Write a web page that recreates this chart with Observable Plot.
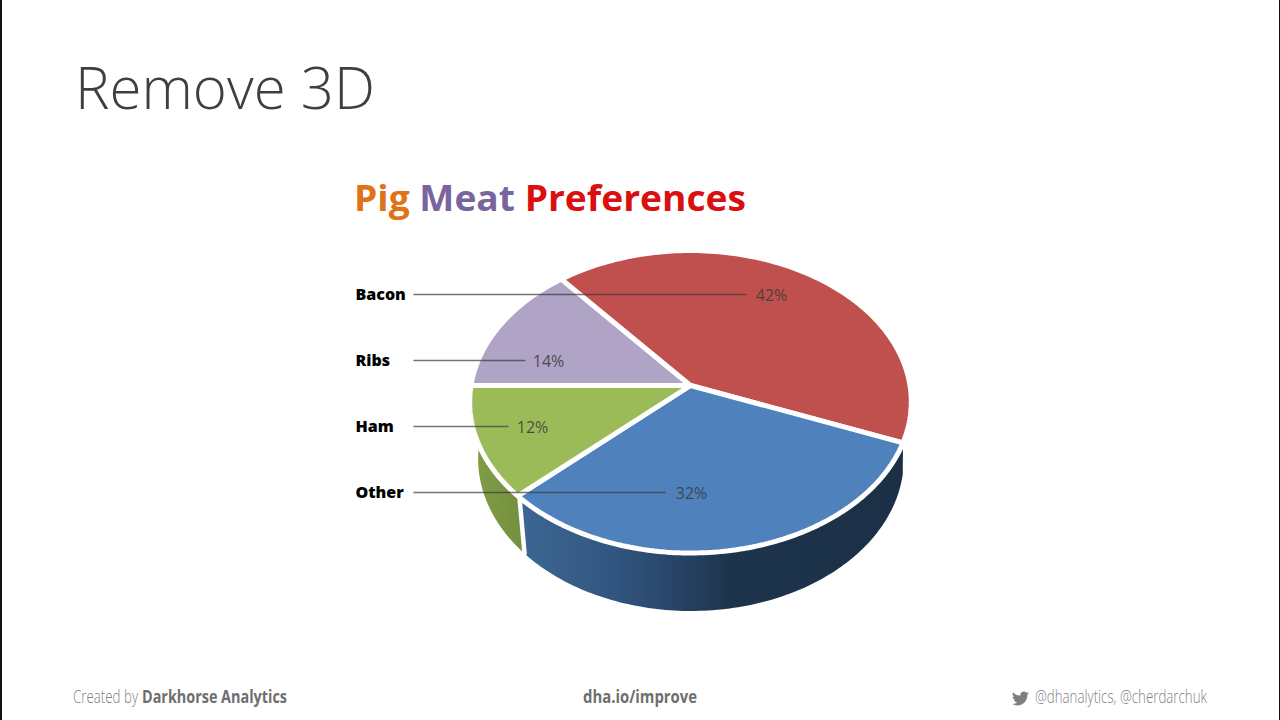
<!DOCTYPE html>
<html>
<head>
<meta charset="utf-8">
<script src="https://cdn.jsdelivr.net/npm/d3@7"></script>
<script src="https://cdn.jsdelivr.net/npm/@observablehq/plot@0.6"></script>
<style>
  html, body { margin: 0; padding: 0; background: #fff; }
  body { position: relative; width: 1280px; height: 720px; overflow: hidden; font-family: "Open Sans", sans-serif; }
  #chart { position: absolute; left: 0; top: 0; }
  .edge { position: absolute; top: 0; width: 1.5px; height: 720px; background: #111; }
  .t { position: absolute; white-space: nowrap; transform-origin: left top; margin: 0; line-height: 1; }
  #slide { left: 75px; top: 57px; font-size: 59px; font-weight: 300; color: #3f3f3f; }
  #ctitle { left: 354px; top: 180px; font-size: 36px; font-weight: 700; }
  .foot { top: 687px; font-size: 18px; color: #7f7f7f; font-weight: 300; }
  .foot.bold { font-weight: 700; color: #6f6f6f; }
  #bird { position: absolute; left: 1012px; top: 690px; width: 17px; height: 17px; fill: #7f7f7f; }
</style>
</head>
<body>
<div class="edge" style="left:0"></div>
<div class="edge" style="left:1278.5px"></div>
<h1 class="t" id="slide">Remove 3D</h1>
<h2 class="t" id="ctitle"><span style="color:#dd7417">Pig</span> <span style="color:#7a649e">Meat</span> <span style="color:#d90f10">Preferences</span></h2>
<div id="chart"></div>
<div class="t foot" id="f0">Created by</div>
<div class="t foot bold" id="f1">Darkhorse Analytics</div>
<div class="t foot bold" id="f2">dha.io/improve</div>
<svg id="bird" viewBox="0 0 24 24"><path d="M23.953 4.57a10 10 0 01-2.825.775 4.958 4.958 0 002.163-2.723c-.951.555-2.005.959-3.127 1.184a4.92 4.92 0 00-8.384 4.482C7.69 8.095 4.067 6.13 1.64 3.162a4.822 4.822 0 00-.666 2.475c0 1.71.87 3.213 2.188 4.096a4.904 4.904 0 01-2.228-.616v.06a4.923 4.923 0 003.946 4.827 4.996 4.996 0 01-2.212.085 4.936 4.936 0 004.604 3.417 9.867 9.867 0 01-6.102 2.105c-.39 0-.779-.023-1.17-.067a13.995 13.995 0 007.557 2.209c9.053 0 13.998-7.496 13.998-13.985 0-.21 0-.42-.015-.63A9.935 9.935 0 0024 4.59z"/></svg>
<div class="t foot" id="f3">@dhanalytics, @cherdarchuk</div>
<script>
// ---- data, in the order the legend rows read ----
const categories = ["Bacon", "Ribs", "Ham", "Other"];
const shares = [42, 14, 12, 32];
const sliceColors = ["#c0504d", "#afa3c6", "#9bbb59", "#4f81bd"];

// ---- layout (screen space, separate from the data) ----
const sweepOrder = ["Ribs", "Bacon", "Other", "Ham"];   // clockwise from 9 o'clock
const apex = {x: 690, y: 385};
const top3d = {a: 217.75, b: 148.3, k: 0.1067, r: 1.008};
const base3d = {x: 690.5, y: 442, sx: 0.972, sy: 1.015};
const rowY = i => 294 + i * 66;
const leaderFrom = 413, labelX = 355;
const leaderTo = {Bacon: 746, Ribs: 525, Ham: 508, Other: 665};
const pctX = {Bacon: 771, Ribs: 548, Ham: 532, Other: 691};

const share = Object.fromEntries(categories.map((c, i) => [c, shares[i]]));
const total = d3.sum(shares);

// perspective view of a flat disc: nearer points spread out, farther ones squeeze
function rim(theta, o = apex, sx = 1, sy = 1, r = top3d.r) {
  const X = r * Math.cos(theta), Y = r * Math.sin(theta), w = 1 - top3d.k * Y;
  return {x: o.x + sx * top3d.a * X / w, y: o.y + sy * top3d.b * Y / w};
}
const baseRim = t => rim(t, base3d, base3d.sx, base3d.sy, 1);
const arcRange = (t0, t1) => d3.range(0, 121).map(i => t0 + (t1 - t0) * i / 120);

let start = Math.PI;
const spans = {};
for (const c of sweepOrder) {
  const sweep = share[c] / total * 2 * Math.PI;
  spans[c] = [start, start + sweep];
  start += sweep;
}

const slicePts = sweepOrder.flatMap(c => [
  {...apex, name: c},
  ...arcRange(...spans[c]).map(t => ({...rim(t), name: c}))
]);

function wall(t0, t1, baseT0, baseT1) {
  return [...arcRange(t0, t1).map(t => rim(t)), ...arcRange(baseT1, baseT0).map(baseRim)];
}
const [blue0, blue1] = spans.Other;
const [green0, green1] = spans.Ham;
const blueWall = wall(blue0, blue1, blue0 - 0.17, blue1);
const greenWall = wall(green0, green1, green0, green1);
const wallSplit = [rim(green0, apex, 1, 1, 1), baseRim(green0)];

function gradient(id, x1, x2, stops) {
  return `<linearGradient id="${id}" gradientUnits="userSpaceOnUse" x1="${x1}" x2="${x2}" y1="0" y2="0">` +
    stops.map(([o, c]) => `<stop offset="${o}" stop-color="${c}"/>`).join("") + `</linearGradient>`;
}
const defs = () => {
  const g = document.createElementNS("http://www.w3.org/2000/svg", "g");
  g.innerHTML = "<defs>" +
    gradient("wallBlue", 522, 900, [[0, "#3d6693"], [0.25, "#31557f"], [0.45, "#243f5f"], [0.55, "#1d344d"], [1, "#1b3046"]]) +
    gradient("wallGreen", 478, 522, [[0, "#7f9c45"], [1, "#74903f"]]) +
    "</defs>";
  return g;
};

const rows = categories.map((c, i) => ({name: c, pct: share[c] + "%", y: rowY(i), x1: leaderFrom, x2: leaderTo[c], px: pctX[c], lx: labelX}));

const plot = Plot.plot({
  width: 1280, height: 720,
  margin: 0,
  x: {domain: [0, 1280], range: [0, 1280], axis: null},
  y: {domain: [0, 720], range: [0, 720], axis: null},
  color: {domain: categories, range: sliceColors},
  style: {background: "transparent", fontFamily: "'Open Sans', sans-serif"},
  marks: [
    defs,
    Plot.line(blueWall, {x: "x", y: "y", fill: "url(#wallBlue)", stroke: "none", curve: "linear-closed"}),
    Plot.line(greenWall, {x: "x", y: "y", fill: "url(#wallGreen)", stroke: "none", curve: "linear-closed"}),
    Plot.line(wallSplit, {x: "x", y: "y", stroke: "white", strokeWidth: 4.5}),
    Plot.line(slicePts, {x: "x", y: "y", z: "name", fill: "name", stroke: "white", strokeWidth: 5, curve: "linear-closed", strokeLinejoin: "miter"}),
    Plot.link(rows, {x1: "x1", x2: "x2", y1: "y", y2: "y", stroke: "#3a3a3a", strokeOpacity: 0.7, strokeWidth: 1.6}),
    Plot.text(rows, {x: "lx", y: d => d.y, text: "name", textAnchor: "start", fontSize: 16, fontWeight: 800, fill: "#000", dy: 0.5}),
    Plot.text(rows, {x: "px", y: d => d.y, text: "pct", textAnchor: "middle", fontSize: 16, fill: "#3c3c3c", fillOpacity: 0.88, dy: 1}),
  ]
});
document.getElementById("chart").append(plot);

// footer text is set in a squeezed cut: fit each run to its span
function place(id, left, width) {
  const el = document.getElementById(id);
  el.style.left = left + "px";
  const w = el.getBoundingClientRect().width;
  el.style.transform = `scaleX(${width / w})`;
}
place("f0", 73, 65);
place("f1", 142, 145);
place("f2", 583, 114);
place("f3", 1035, 172);
place("slide", 75, 300);
place("ctitle", 354, 392);
</script>
</body>
</html>
